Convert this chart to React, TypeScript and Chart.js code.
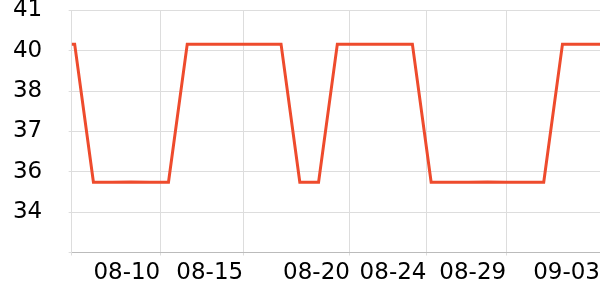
import { useEffect, useRef } from "react";
import { Chart, registerables } from "chart.js";

Chart.register(...registerables);

// x positions in days of August (Sep 3 = day 34)
const dayValues = [5.84, 6, 7, 8, 9, 10, 11, 12, 13, 14, 15, 16, 17, 18, 19, 20, 21, 22, 23, 24, 25, 26, 27, 28, 29, 30, 31, 32, 33, 34];
const seriesValues = [39.87, 39.87, 35.25, 35.25, 35.26, 35.25, 35.25, 39.87, 39.87, 39.87, 39.87, 39.87, 39.87, 35.25, 35.25, 39.87, 39.87, 39.87, 39.87, 39.87, 35.25, 35.25, 35.25, 35.26, 35.25, 35.25, 35.25, 39.87, 39.87, 39.87];
const tickDays = [5.84, 10.56, 14.98, 20.67, 24.75, 29.0, 34];
const tickLabels = ["", "08-10", "08-15", "08-20", "08-24", "08-29", "09-03"];

const yMin = 32.9;
const yMax = 41;
const yStep = 1.35;

export default function App() {
  const ref = useRef<HTMLCanvasElement | null>(null);
  useEffect(() => {
    document.body.style.margin = "0";
    if (!ref.current) return;
    Chart.defaults.font.family = "'DejaVu Sans'";
    const font = { family: "'DejaVu Sans'", size: 23 };
    const chart = new Chart(ref.current, {
      type: "line",
      data: {
        datasets: [
          {
            data: dayValues.map((d, i) => ({ x: d, y: seriesValues[i] })),
            borderColor: "rgb(238,75,45)",
            backgroundColor: "rgb(238,75,45)",
            borderWidth: 3,
            pointRadius: 0,
            tension: 0,
            fill: false,
          },
        ],
      },
      options: {
        animation: false,
        responsive: true,
        maintainAspectRatio: false,
        layout: { padding: { left: 12.9, bottom: 12.7, top: 0, right: 0 } },
        plugins: { legend: { display: false }, tooltip: { enabled: false } },
        scales: {
          x: {
            type: "linear",
            min: tickDays[0],
            max: tickDays[tickDays.length - 1],
            afterBuildTicks: (scale: any) => {
              scale.ticks = tickDays.map((v) => ({ value: v }));
            },
            grid: { color: "#dddddd", tickLength: 7.2, tickBorderDash: [2.5, 50] },
            border: { color: "#bbbbbb" },
            ticks: {
              autoSkip: false,
              align: "end",
              maxRotation: 0,
              padding: 0,
              color: "#000",
              font,
              callback: (_v: any, i: number) => tickLabels[i] ?? "",
            },
          },
          y: {
            min: yMin,
            max: yMax,
            grid: { color: "#dddddd", tickLength: 29.5, tickBorderDash: [0, 26.5, 3, 60] },
            border: { color: "#dddddd" },
            ticks: {
              stepSize: yStep,
              padding: 0,
              color: "#000",
              font: { ...font, lineHeight: 0.9 },
              callback: (v: any) => (Math.abs(Number(v) - yMin) < 1e-6 ? "" : String(Math.round(Number(v)))),
            },
          },
        },
      },
    });
    return () => chart.destroy();
  }, []);
  return (
    <div style={{ width: 600, height: 300, position: "relative" }}>
      <canvas ref={ref} />
    </div>
  );
}
